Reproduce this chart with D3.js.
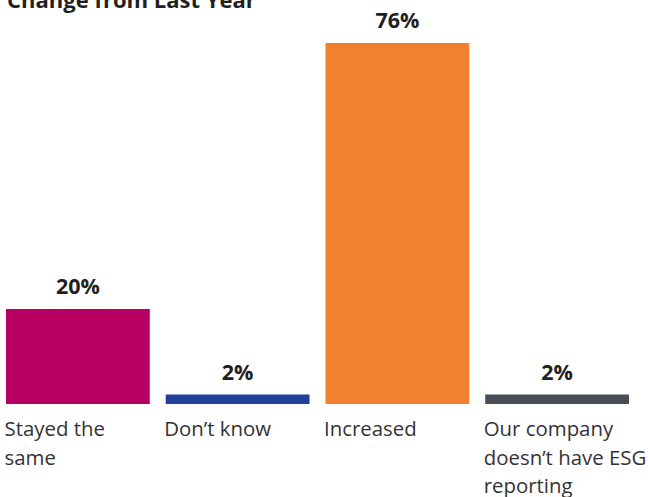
<!DOCTYPE html>
<html>
<head>
<meta charset="utf-8">
<script src="https://cdn.jsdelivr.net/npm/d3@7"></script>
<style>
  html, body { margin: 0; padding: 0; background: #fff; }
  svg { display: block; }
</style>
</head>
<body>
<svg id="chart" width="648" height="497"></svg>
<script>
// Survey answers: how ESG reporting changed from last year
const title = "Change from Last Year";
const categories = ["Stayed the same", "Don’t know", "Increased", "Our company doesn’t have ESG reporting"];
const categoryLines = [
  ["Stayed the", "same"],
  ["Don’t know"],
  ["Increased"],
  ["Our company", "doesn’t have ESG", "reporting"]
];
const values = [20, 2, 76, 2];
const colors = ["#B80064", "#21409A", "#F2802E", "#4A4D55"];

const svg = d3.select("#chart");
const font = "'Open Sans', 'Noto Sans', sans-serif";
const textColor = "#231F20";

const x = d3.scaleBand()
  .domain(categories)
  .range([6, 629])
  .paddingInner(0.1)
  .paddingOuter(0);

const y = d3.scaleLinear()
  .domain([0, 76])
  .range([404, 43]);

// Title (partly clipped at the top edge)
svg.append("text")
  .attr("x", 7)
  .attr("y", 8)
  .attr("font-family", font)
  .attr("font-weight", 700)
  .attr("font-size", 22)
  .attr("fill", textColor)
  .text(title);

// Bars
svg.selectAll("rect.bar")
  .data(categories)
  .join("rect")
  .attr("class", "bar")
  .attr("x", d => x(d))
  .attr("width", x.bandwidth())
  .attr("y", (d, i) => y(values[i]))
  .attr("height", (d, i) => y(0) - y(values[i]))
  .attr("fill", (d, i) => colors[i]);

// Value labels above bars
svg.selectAll("text.value")
  .data(categories)
  .join("text")
  .attr("class", "value")
  .attr("x", d => x(d) + x.bandwidth() / 2)
  .attr("y", (d, i) => y(values[i]) - 15)
  .attr("text-anchor", "middle")
  .attr("font-family", font)
  .attr("font-weight", 700)
  .attr("font-size", 21.5)
  .attr("fill", textColor)
  .text((d, i) => values[i] + "%");

// Category labels below the baseline
const cat = svg.selectAll("text.cat")
  .data(categories)
  .join("text")
  .attr("class", "cat")
  .attr("x", d => x(d) - 1.5)
  .attr("y", 436)
  .attr("font-family", font)
  .attr("font-size", 20.4)
  .attr("fill", "#333333");

cat.selectAll("tspan")
  .data((d, i) => categoryLines[i])
  .join("tspan")
  .attr("x", function () { return d3.select(this.parentNode).attr("x"); })
  .attr("dy", (d, j) => j === 0 ? 0 : 28.5)
  .text(d => d);
</script>
</body>
</html>
